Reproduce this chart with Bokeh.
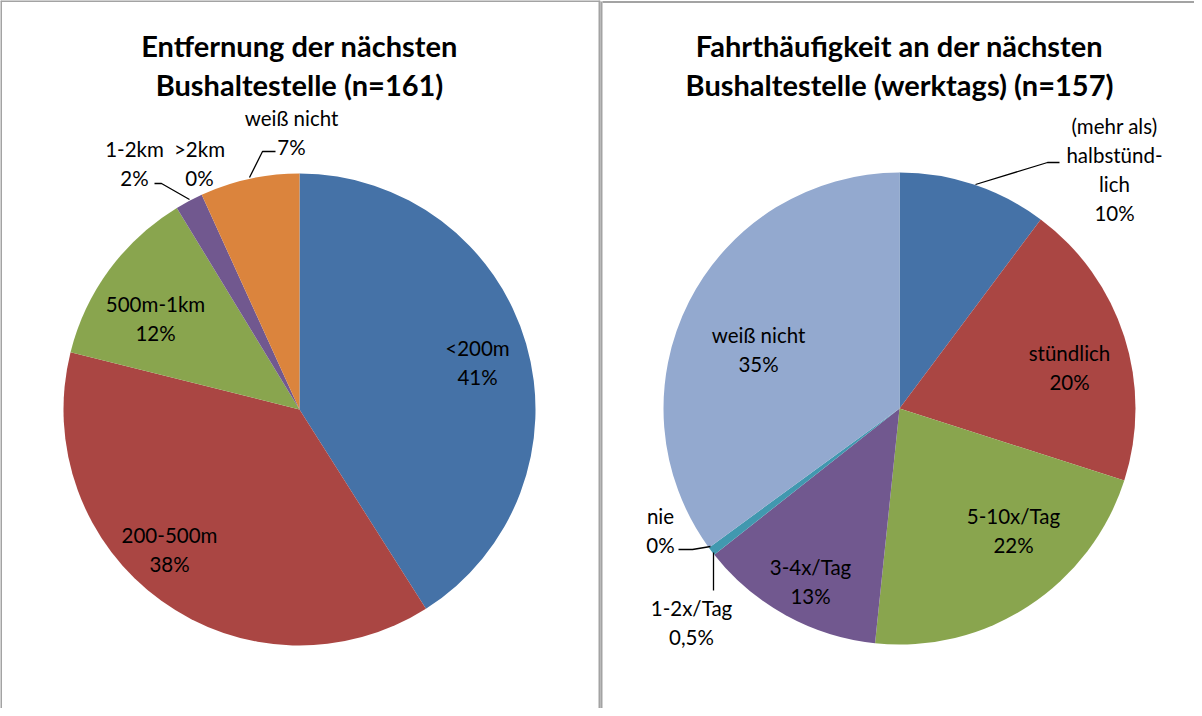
import math
from bokeh.plotting import figure
from bokeh.models import Range1d, ColumnDataSource
from bokeh.core.properties import value
from bokeh.embed import file_html
from bokeh.resources import INLINE

# ---------------- data ----------------
left_title = ["Entfernung der nächsten", "Bushaltestelle (n=161)"]
left_categories = ["<200m", "200-500m", "500m-1km", "1-2km", ">2km", "weiß nicht"]
left_shares = [41.0, 37.9, 12.4, 1.9, 0.0, 6.8]
left_pct_labels = ["41%", "38%", "12%", "2%", "0%", "7%"]
left_colors = ["#4572A7", "#AA4643", "#89A54E", "#71588F", "#4198AF", "#DB843D"]

right_title = ["Fahrthäufigkeit an der nächsten", "Bushaltestelle (werktags) (n=157)"]
right_categories = ["(mehr als)\nhalbstünd-\nlich", "stündlich", "5-10x/Tag", "3-4x/Tag",
                    "1-2x/Tag", "nie", "weiß nicht"]
right_shares = [10.2, 19.7, 21.7, 12.7, 0.6, 0.0, 35.0]
right_pct_labels = ["10%", "20%", "22%", "13%", "0,5%", "0%", "35%"]
right_colors = ["#4572A7", "#AA4643", "#89A54E", "#71588F", "#4198AF", "#DB843D", "#93A9CF"]

# ---------------- layout (page pixels) ----------------
W, H = 1194, 708
def Y(py):
    return 716 - py

FONT = "Lato"
LABEL_SIZE = "20.5px"
TITLE_SIZE = "29px"
LINE_GAP = 29

left_center = (307, 417)
right_center = (907, 416)
RADIUS = 236

# label block anchor: (x, y of first line centre)
left_label_pos = [(485, 355), (177, 542), (163, 311), (142, 156), (207, 156), (299, 125)]
right_label_pos = [(1122, 133), (1077, 360), (1021, 523), (818, 574), (699, 615), (668, 523), (766, 342)]

left_leaders = [
    [(257, 185), (270, 159), (283, 159)],
    [(197, 207), (169, 191), (162, 191)],
]
right_leaders = [
    [(983, 192), (1055, 170), (1067, 170)],
    [(718, 554), (700, 557), (686, 557)],
    [(721, 560), (721, 598)],
]

p = figure(width=W, height=H, output_backend="svg", toolbar_location=None,
           x_range=Range1d(8, 1202), y_range=Range1d(0, 708),
           min_border=0, min_border_left=0, min_border_right=0,
           min_border_top=0, min_border_bottom=0)
p.axis.visible = False
p.xgrid.visible = False
p.ygrid.visible = False
p.outline_line_color = None
p.background_fill_color = "white"
p.border_fill_color = "white"

# panel borders
BORDER = "#a3a3a3"
p.segment(x0=[8.5, 8, 607, 610], y0=[Y(8), Y(8.5), Y(8), Y(9.5)],
          x1=[8.5, 607.5, 607, 1202], y1=[Y(716), Y(8.5), Y(716), Y(9.5)],
          line_color=BORDER, line_width=2)
p.segment(x0=[609], y0=[Y(9)], x1=[609], y1=[Y(716)], line_color=BORDER, line_width=2)


def draw_pie(shares, colors, center):
    total = sum(shares)
    starts, ends, cols = [], [], []
    cum = 0.0
    for s, c in zip(shares, colors):
        a0 = math.pi / 2 - 2 * math.pi * cum / total
        cum += s
        a1 = math.pi / 2 - 2 * math.pi * cum / total
        if s > 0:
            starts.append(a0)
            ends.append(a1)
            cols.append(c)
    src = ColumnDataSource(dict(start=starts, end=ends, color=cols,
                                x=[center[0]] * len(cols), y=[Y(center[1])] * len(cols)))
    p.wedge(x="x", y="y", radius=RADIUS, start_angle="start", end_angle="end",
            direction="clock", fill_color="color", line_color=None, source=src)


def draw_labels(categories, pct_labels, positions):
    xs, ys, ts = [], [], []
    for cat, pct, (x, y) in zip(categories, pct_labels, positions):
        lines = cat.split("\n") + [pct]
        for i, t in enumerate(lines):
            xs.append(x)
            ys.append(Y(y + i * LINE_GAP))
            ts.append(t)
    p.text(x=xs, y=ys, text=ts, text_align="center", text_baseline="middle",
           text_font=value(FONT), text_font_size=LABEL_SIZE, text_color="black")


def draw_title(lines, cx):
    p.text(x=[cx, cx], y=[Y(53), Y(92)], text=lines, text_align="center",
           text_baseline="alphabetic", text_font=value(FONT), text_font_size=TITLE_SIZE,
           text_font_style="bold", text_color="black")


def draw_leaders(leaders):
    xs = [[pt[0] for pt in l] for l in leaders]
    ys = [[Y(pt[1]) for pt in l] for l in leaders]
    p.multi_line(xs=xs, ys=ys, line_color="black", line_width=1.3)


draw_pie(left_shares, left_colors, left_center)
draw_pie(right_shares, right_colors, right_center)
draw_leaders(left_leaders)
draw_leaders(right_leaders)
draw_labels(left_categories, left_pct_labels, left_label_pos)
draw_labels(right_categories, right_pct_labels, right_label_pos)
draw_title(left_title, 307)
draw_title(right_title, 907)

open("out.html", "w").write(file_html(p, INLINE))
